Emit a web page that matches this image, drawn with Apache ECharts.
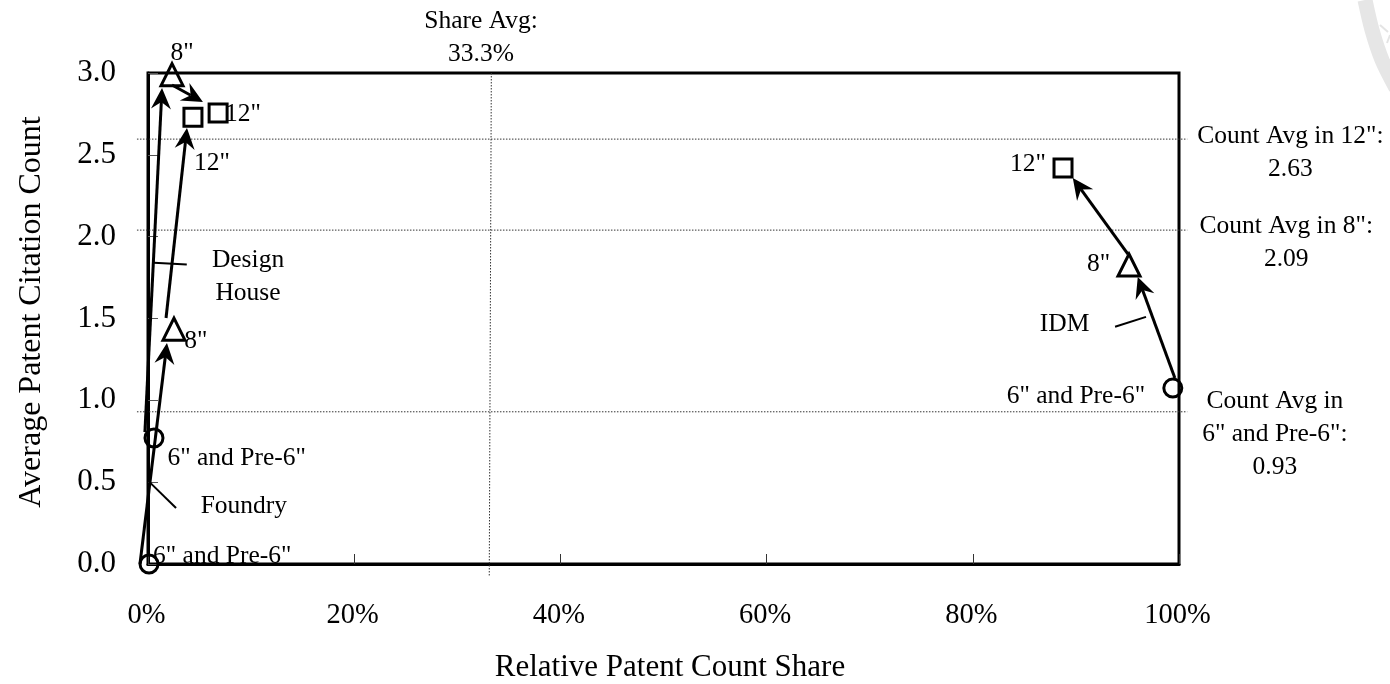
<!DOCTYPE html>
<html>
<head>
<meta charset="utf-8">
<style>html,body{margin:0;padding:0;background:#fff}#c{width:1390px;height:684px}</style>
<script src="https://cdn.jsdelivr.net/npm/echarts@6/dist/echarts.min.js"></script>
</head>
<body>
<div id="c"></div>
<script>
const xTicks = [0, 20, 40, 60, 80, 100];
const yTicks = [0, 0.5, 1, 1.5, 2, 2.5, 3];
const xTitle = 'Relative Patent Count Share';
const yTitle = 'Average Patent Citation Count';

const circles = [[0.1, 0], [0.58, 0.77], [99.4, 1.075]];
const triangles = [[2.33, 2.99], [2.52, 1.435], [95.15, 1.827]];
const squares = [[4.36, 2.73], [6.8, 2.755], [88.75, 2.42]];

const arrows = [
  [-0.3, 0.806, 1.36, 2.908],
  [2.33, 2.927, 5.33, 2.823],
  [-0.78, 0, 1.84, 1.35],
  [1.75, 1.503, 3.78, 2.664],
  [99.6, 1.136, 96.0, 1.754],
  [95.05, 1.894, 89.7, 2.358]
];
const leaders = [
  [0.58, 1.84, 3.76, 1.83],
  [0.2, 0.497, 2.72, 0.342],
  [93.8, 1.45, 96.8, 1.51]
];
const avgLines = [
  [-1.07, 2.596, 100.8, 2.596],
  [-1.07, 2.04, 100.8, 2.04],
  [-1.07, 0.93, 100.8, 0.93],
  [33.3, 3, 33.1, -0.07]
];
const notes = [
  [32.3, 3.214, 'Share Avg:\n33.3%'],
  [3.3, 3.118, '8"'],
  [9.2, 2.749, '12"'],
  [6.2, 2.45, '12"'],
  [4.65, 1.358, '8"'],
  [9.7, 1.754, 'Design\nHouse'],
  [8.6, 0.648, '6" and Pre-6"'],
  [9.3, 0.355, 'Foundry'],
  [7.2, 0.049, '6" and Pre-6"'],
  [85.35, 2.444, '12"'],
  [92.2, 1.833, '8"'],
  [88.9, 1.462, 'IDM'],
  [90.0, 1.024, '6" and Pre-6"'],
  [110.8, 2.511, 'Count Avg in 12":\n2.63'],
  [110.4, 1.961, 'Count Avg in 8":\n2.09'],
  [109.3, 0.794, 'Count Avg in\n6" and Pre-6":\n0.93']
];

const FONT = '"Liberation Serif", "Times New Roman", serif';
const chart = echarts.init(document.getElementById('c'), null, {renderer: 'canvas'});

function segSeries(name, data, style, z) {
  return {
    type: 'custom', name, data, z, clip: false, silent: true,
    encode: {x: [0, 2], y: [1, 3]},
    renderItem(p, api) {
      const a = api.coord([api.value(0), api.value(1)]);
      const b = api.coord([api.value(2), api.value(3)]);
      return {type: 'line', shape: {x1: a[0], y1: a[1], x2: b[0], y2: b[1]}, style};
    }
  };
}
function arrowSeries(data) {
  return {
    type: 'custom', name: 'Transitions', data, z: 6, clip: false, silent: true,
    encode: {x: [0, 2], y: [1, 3]},
    renderItem(p, api) {
      const a = api.coord([api.value(0), api.value(1)]);
      const b = api.coord([api.value(2), api.value(3)]);
      const ang = Math.atan2(b[1] - a[1], b[0] - a[0]);
      const pt = (d, o) => [
        b[0] - d * Math.cos(ang) - o * Math.sin(ang),
        b[1] - d * Math.sin(ang) + o * Math.cos(ang)
      ];
      const tip = pt(0, 0), l = pt(21, 10), n = pt(14, 0), r = pt(21, -10);
      return {type: 'group', children: [
        {type: 'line', shape: {x1: a[0], y1: a[1], x2: n[0], y2: n[1]},
         style: {stroke: '#000', lineWidth: 3}},
        {type: 'polygon', shape: {points: [tip, l, n, r]}, style: {fill: '#000'}}
      ]};
    }
  };
}
function markerSeries(name, data, symbol, size) {
  return {
    type: 'scatter', name, data, symbol, symbolSize: size, z: 7, clip: false, silent: true,
    itemStyle: {color: 'rgba(255,255,255,0)', borderColor: '#000', borderWidth: 3, opacity: 1}
  };
}

chart.setOption({
  animation: false,
  backgroundColor: '#fff',
  graphic: [
    {type: 'polyline', silent: true, z: 0,
     shape: {points: [[1365, 0], [1372, 30], [1382, 60], [1396, 88]], smooth: 0.3},
     style: {stroke: '#e6e6e6', lineWidth: 15, fill: 'none'}},
    {type: 'polyline', silent: true, z: 0,
     shape: {points: [[1380, 25], [1388, 32]]},
     style: {stroke: '#e4e4e4', lineWidth: 2, fill: 'none'}},
    {type: 'polyline', silent: true, z: 0,
     shape: {points: [[1387, 43], [1390, 35]]},
     style: {stroke: '#e4e4e4', lineWidth: 2, fill: 'none'}}
  ],
  grid: {left: 148, right: 211, top: 73, bottom: 120, show: true, outerBoundsMode: 'none',
         backgroundColor: 'transparent', borderColor: '#000', borderWidth: 3},
  xAxis: {
    type: 'value', min: 0, max: 100, interval: 20,
    name: xTitle, nameLocation: 'middle', nameGap: 88,
    nameTextStyle: {fontFamily: FONT, fontSize: 31, color: '#000', padding: [0, 0, 0, 13]},
    axisLine: {show: true, lineStyle: {color: '#000', width: 3}},
    axisTick: {show: true, inside: true, length: 10, lineStyle: {color: '#333', width: 1}},
    splitLine: {show: false},
    axisLabel: {margin: 37, fontFamily: FONT, fontSize: 28.5, color: '#000',
                customValues: xTicks, formatter: v => v + '%', padding: [0, 3, 0, 0]}
  },
  yAxis: {
    type: 'value', min: 0, max: 3, interval: 0.5,
    name: yTitle, nameLocation: 'middle', nameGap: 100, nameRotate: 90,
    nameTextStyle: {fontFamily: FONT, fontSize: 32, color: '#000', padding: [0, 0, 0, 13]},
    axisLine: {show: true, lineStyle: {color: '#000', width: 3}},
    axisTick: {show: true, inside: true, length: 10, lineStyle: {color: '#555', width: 1}},
    splitLine: {show: false},
    axisLabel: {margin: 32, fontFamily: FONT, fontSize: 31, color: '#000',
                customValues: yTicks, formatter: v => v.toFixed(1), padding: [6, 0, 0, 0]}
  },
  series: [
    segSeries('Averages', avgLines, {stroke: '#333', lineWidth: 1, lineDash: [1.5, 1.5]}, 2),
    segSeries('Leaders', leaders, {stroke: '#000', lineWidth: 2}, 5),
    arrowSeries(arrows),
    markerSeries('6" and Pre-6"', circles, 'circle', 18),
    markerSeries('8"', triangles, 'triangle', 22),
    markerSeries('12"', squares, 'rect', 18),
    {
      type: 'custom', name: 'Notes', data: notes, z: 8, clip: false, silent: true,
      encode: {x: 0, y: 1},
      renderItem(p, api) {
        const i = p.dataIndex, c = api.coord([notes[i][0], notes[i][1]]);
        return {type: 'text', x: c[0], y: c[1], style: {
          text: notes[i][2], fontFamily: FONT, fontSize: 25.5, fill: '#000',
          align: 'center', verticalAlign: 'middle', lineHeight: 33
        }};
      }
    }
  ]
});
</script>
</body>
</html>
